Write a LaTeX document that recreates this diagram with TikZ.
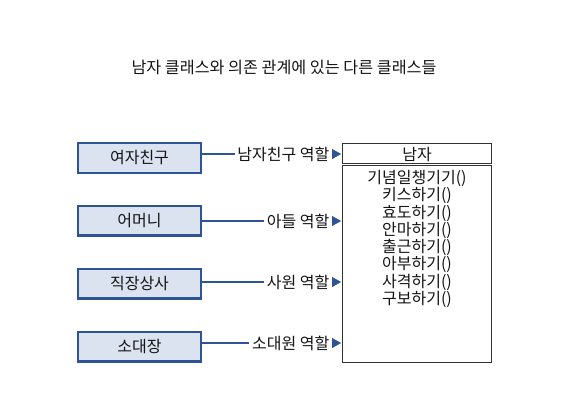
\documentclass[tikz,border=0pt]{standalone}
\usepackage{fontspec}
\setmainfont{Noto Sans CJK KR}
\usetikzlibrary{arrows.meta}
\definecolor{myblue}{RGB}{47,84,150}
\definecolor{myfill}{RGB}{219,227,240}
\definecolor{mytext}{RGB}{20,20,20}
\begin{document}
\begin{tikzpicture}[x=1pt,y=-1pt,
  srcbox/.style={draw=myblue, line width=2.2pt, fill=myfill, minimum width=122.8pt, minimum height=29.8pt, inner sep=0pt, text=mytext, font=\fontsize{16}{18}\selectfont},
  rolelab/.style={anchor=east, inner sep=2.5pt, text=mytext, font=\fontsize{16}{18}\selectfont},
  conn/.style={draw=myblue, line width=2pt},
  tip/.style={draw=myblue, fill=myblue, line width=0.3pt, -{Triangle[length=9pt,width=10pt]}},
  clsbox/.style={draw=black!80, line width=1pt, minimum width=149pt, minimum height=219pt, inner sep=0pt}
]
\useasboundingbox (0,0) rectangle (577,408);
\node[text=mytext, font=\fontsize{16.2}{18}\selectfont] (title) at (284,67) {남자 클래스와 의존 관계에 있는 다른 클래스들};

\node[clsbox] (cls) at (417,252.5) {};
\node[text=mytext, font=\fontsize{16}{18}\selectfont] (clsname) at (417,154.5) {남자};
\draw[black!80, line width=0.8pt, double, double distance=0.9pt] ([yshift=-22pt]cls.north west) -- ([yshift=-22pt]cls.north east);
\node[anchor=north, align=center, inner sep=0pt, text=mytext, font=\fontsize{16}{17.3}\selectfont] (methods) at (417,170) {기념일챙기기()\\키스하기()\\효도하기()\\안마하기()\\출근하기()\\아부하기()\\사격하기()\\구보하기()};

\node[srcbox] (b1) at (139.5,158) {여자친구};
\node[srcbox] (b2) at (139.5,220.5) {어머니};
\node[srcbox] (b3) at (139.5,283.5) {직장상사};
\node[srcbox] (b4) at (139.5,346.5) {소대장};

\node[rolelab] (l1) at (332,154) {남자친구 역할};
\node[rolelab] (l2) at (332,221) {아들 역할};
\node[rolelab] (l3) at (332,282) {사원 역할};
\node[rolelab] (l4) at (332,343) {소대원 역할};

\foreach \i in {1,2,3,4} {
  \draw[conn] (l\i.west -| b\i.east) -- (l\i.west);
  \draw[tip] (l\i.east) -- ([xshift=-1pt]l\i.east -| cls.west);
}
\end{tikzpicture}
\end{document}
